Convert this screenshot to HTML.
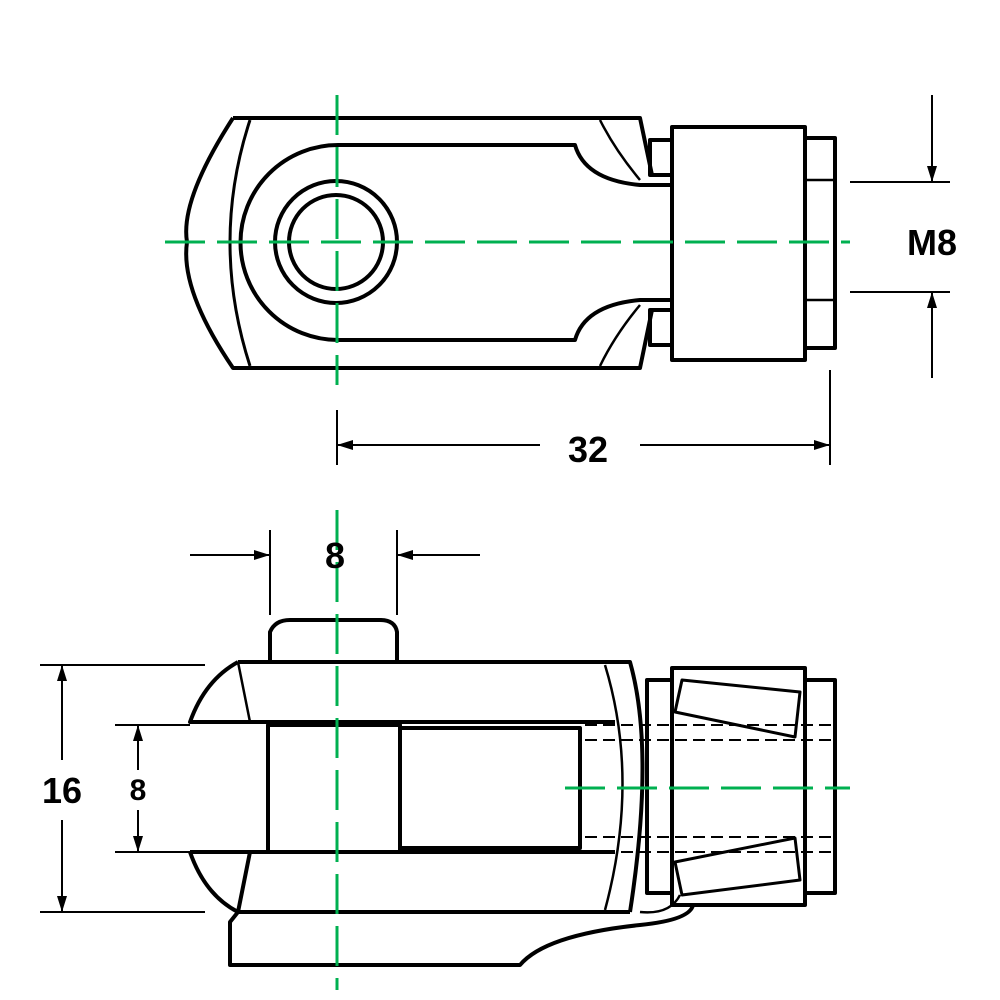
<!DOCTYPE html>
<html><head><meta charset="utf-8"><style>html,body{margin:0;padding:0;background:#fff}svg{display:block}</style></head>
<body>
<svg width="1000" height="1000" viewBox="0 0 1000 1000" xmlns="http://www.w3.org/2000/svg">
<defs>
<marker id="a" markerWidth="16" markerHeight="10" refX="16" refY="5" orient="auto" markerUnits="userSpaceOnUse"><path d="M0,0 L16,5 L0,10 z" fill="#000"/></marker>
</defs>
<g fill="none" stroke="#000" stroke-width="4" stroke-linejoin="round">
<!-- TOP VIEW -->
<path d="M233,118 L640,118 L652,175 M233,118 Q180,200 187,242 Q180,290 233,368 L640,368 L652,310"/>
<path d="M250,120 Q210,242 250,366" stroke-width="3"/>
<path d="M338,145 L575,145 Q585,180 640,185 L672,185 M338,145 A97,97 0 0 0 338,340 L575,340 Q585,305 640,300 L672,300"/>
<path d="M600,120 Q615,150 640,180 M600,366 Q615,335 640,305" stroke-width="2.5"/>
<circle cx="336" cy="242" r="61"/>
<circle cx="336" cy="242" r="47"/>
<rect x="672" y="127" width="133" height="233"/>
<rect x="650" y="140" width="22" height="35"/>
<rect x="650" y="310" width="22" height="35"/>
<rect x="805" y="138" width="30" height="210"/>
<line x1="805" y1="180" x2="835" y2="180" stroke-width="2.5"/>
<line x1="805" y1="300" x2="835" y2="300" stroke-width="2.5"/>
<!-- top dims -->
<g stroke-width="2">
<line x1="337" y1="410" x2="337" y2="465"/>
<line x1="830" y1="370" x2="830" y2="465"/>
<line x1="540" y1="445" x2="337" y2="445" marker-end="url(#a)"/>
<line x1="640" y1="445" x2="830" y2="445" marker-end="url(#a)"/>
<line x1="850" y1="182" x2="950" y2="182"/>
<line x1="850" y1="292" x2="950" y2="292"/>
<line x1="932" y1="95" x2="932" y2="182" marker-end="url(#a)"/>
<line x1="932" y1="378" x2="932" y2="292" marker-end="url(#a)"/>
</g>
<!-- BOTTOM VIEW -->
<path d="M270,660 L270,632 Q275,620 290,620 L380,620 Q395,620 397,632 L397,660"/>
<path d="M238,662 L630,662 Q655,750 630,912 M238,662 Q205,680 190,722 L615,722"/>
<path d="M605,665 Q640,780 605,910" stroke-width="2.5"/>
<path d="M238,662 L250,722" stroke-width="2.5"/>
<path d="M190,852 L615,852 M190,852 Q205,895 238,912 L630,912 M238,912 L250,852"/>
<rect x="268" y="725" width="132" height="127"/>
<rect x="400" y="728" width="180" height="120"/>
<path d="M238,912 L230,922 L230,965 L520,965 Q545,935 640,925 Q690,920 693,905"/>
<path d="M640,912 Q670,915 680,895" stroke-width="2.5"/>
<rect x="647" y="680" width="25" height="213"/>
<rect x="672" y="668" width="133" height="237"/>
<rect x="805" y="680" width="30" height="213"/>
<path d="M682,680 L800,692 L795,737 L675,712 Z M682,895 L800,880 L795,838 L675,862 Z" stroke-width="3"/>
<g stroke-width="2" stroke-dasharray="12,6">
<line x1="585" y1="725" x2="835" y2="725"/>
<line x1="585" y1="740" x2="835" y2="740"/>
<line x1="585" y1="837" x2="835" y2="837"/>
<line x1="585" y1="852" x2="835" y2="852"/>
</g>
<!-- bottom dims -->
<g stroke-width="2">
<line x1="270" y1="530" x2="270" y2="615"/>
<line x1="397" y1="530" x2="397" y2="615"/>
<line x1="190" y1="555" x2="270" y2="555" marker-end="url(#a)"/>
<line x1="480" y1="555" x2="397" y2="555" marker-end="url(#a)"/>
<line x1="40" y1="665" x2="205" y2="665"/>
<line x1="40" y1="912" x2="205" y2="912"/>
<line x1="62" y1="760" x2="62" y2="665" marker-end="url(#a)"/>
<line x1="62" y1="820" x2="62" y2="912" marker-end="url(#a)"/>
<line x1="115" y1="725" x2="190" y2="725"/>
<line x1="115" y1="852" x2="190" y2="852"/>
<line x1="138" y1="770" x2="138" y2="725" marker-end="url(#a)"/>
<line x1="138" y1="810" x2="138" y2="852" marker-end="url(#a)"/>
</g>
</g>
<!-- green center lines -->
<g stroke="#00b050" stroke-width="3" stroke-dasharray="40,12">
<line x1="165" y1="242" x2="850" y2="242"/>
<line x1="337" y1="95" x2="337" y2="385"/>
<line x1="337" y1="510" x2="337" y2="990"/>
<line x1="565" y1="788" x2="850" y2="788"/>
</g>
<g font-family="Liberation Sans, sans-serif" font-weight="bold" text-anchor="middle" fill="#000">
<text x="588" y="462" font-size="36">32</text>
<text x="932" y="255" font-size="36">M8</text>
<text x="335" y="568" font-size="36">8</text>
<text x="62" y="803" font-size="36">16</text>
<text x="138" y="800" font-size="30">8</text>
</g>
</svg>
</body></html>
